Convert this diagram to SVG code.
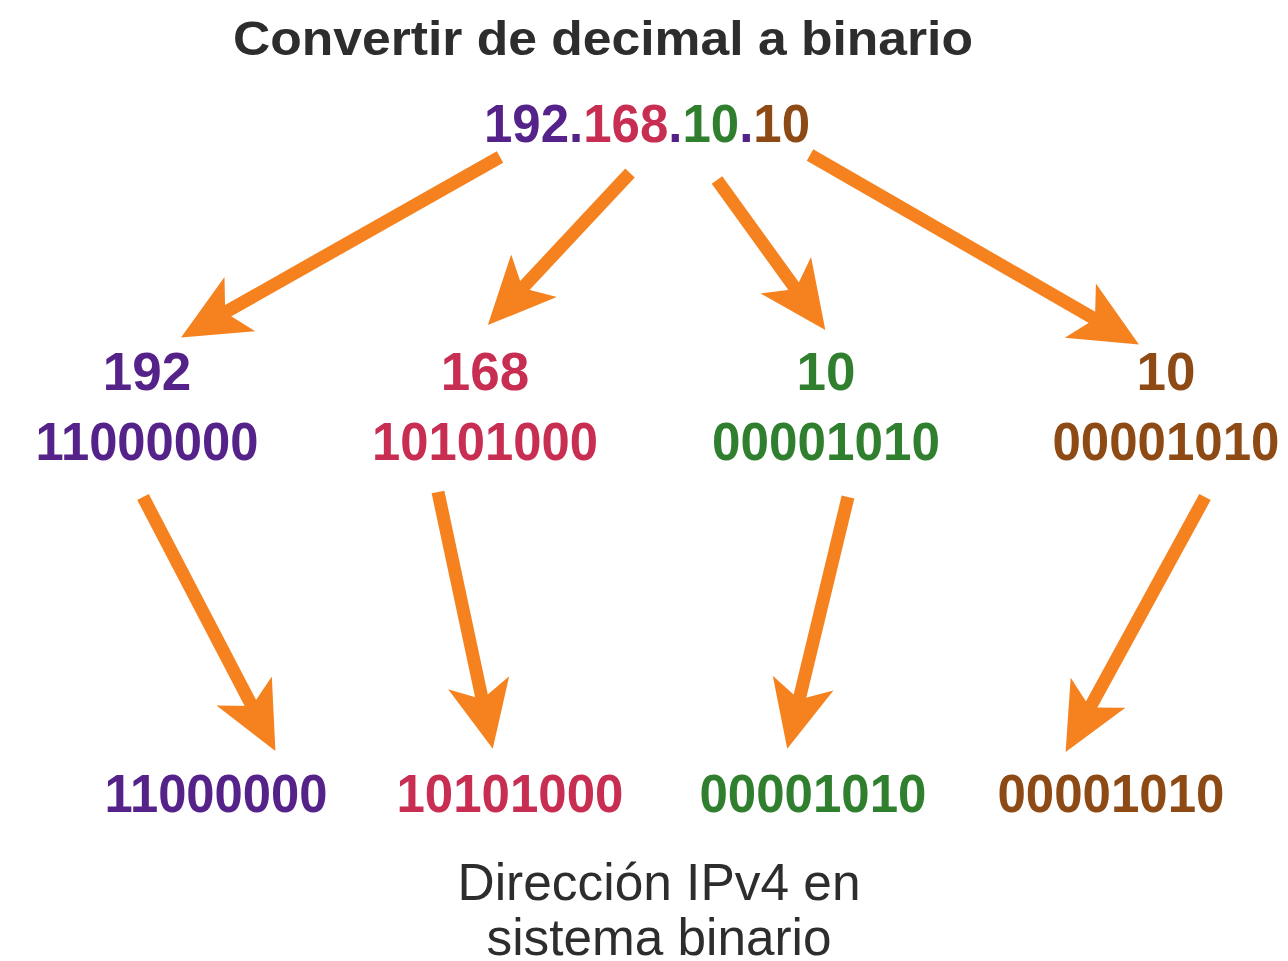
<svg xmlns="http://www.w3.org/2000/svg" width="1288" height="961" viewBox="0 0 1288 961">
<style>
.t{font-family:"Liberation Sans",Arial,sans-serif;font-weight:bold;text-anchor:middle}
.n{font-family:"Liberation Sans",Arial,sans-serif;font-weight:bold;font-size:53px;text-anchor:middle}
.cap{font-family:"Liberation Sans",Arial,sans-serif;font-size:52px;fill:#2d2d2d;text-anchor:middle}
.p{fill:#55228a}.r{fill:#c72e52}.g{fill:#2f7f2f}.b{fill:#8d4a14}
.a{stroke:#f5821f;stroke-width:13;fill:none;marker-end:url(#ah)}
</style>
<defs>
<marker id="ah" viewBox="0 -3 6 6" markerWidth="6" markerHeight="6" refX="4" refY="0" orient="auto">
<path d="M0,-2.4 L5.2,0 L0,2.4 L1.3,0 Z" fill="#f5821f"/>
</marker>
</defs>
<rect width="1288" height="961" fill="#ffffff"/>
<g id="title">
<text class="t" x="603" y="55" font-size="48" fill="#2d2d2d" textLength="740" lengthAdjust="spacingAndGlyphs">Convertir de decimal a binario</text>
</g>
<g id="ip">
<text class="n" x="647" y="142" textLength="326" lengthAdjust="spacingAndGlyphs"><tspan class="p">192.</tspan><tspan class="r">168</tspan><tspan class="p">.</tspan><tspan class="g">10</tspan><tspan class="p">.</tspan><tspan class="b">10</tspan></text>
</g>
<g id="oct1">
<text class="n p" x="147" y="390">192</text>
<text class="n p" x="147" y="460" textLength="223" lengthAdjust="spacingAndGlyphs">11000000</text>
</g>
<g id="oct2">
<text class="n r" x="485" y="390">168</text>
<text class="n r" x="485" y="460" textLength="226" lengthAdjust="spacingAndGlyphs">10101000</text>
</g>
<g id="oct3">
<text class="n g" x="826" y="390">10</text>
<text class="n g" x="826" y="460" textLength="228" lengthAdjust="spacingAndGlyphs">00001010</text>
</g>
<g id="oct4">
<text class="n b" x="1166" y="390">10</text>
<text class="n b" x="1166" y="460" textLength="227" lengthAdjust="spacingAndGlyphs">00001010</text>
</g>
<g id="bin1"><text class="n p" x="216" y="812" textLength="223" lengthAdjust="spacingAndGlyphs">11000000</text></g>
<g id="bin2"><text class="n r" x="510" y="812" textLength="227" lengthAdjust="spacingAndGlyphs">10101000</text></g>
<g id="bin3"><text class="n g" x="813" y="812" textLength="227" lengthAdjust="spacingAndGlyphs">00001010</text></g>
<g id="bin4"><text class="n b" x="1111" y="812" textLength="227" lengthAdjust="spacingAndGlyphs">00001010</text></g>
<g id="caption">
<text class="cap" x="659" y="900" textLength="403" lengthAdjust="spacingAndGlyphs">Dirección IPv4 en</text>
<text class="cap" x="659" y="955" textLength="345" lengthAdjust="spacingAndGlyphs">sistema binario</text>
</g>
<g id="connectors">
<line class="a" x1="500" y1="157" x2="194.6" y2="329.7"/>
<line class="a" x1="630" y1="173" x2="498.5" y2="313.7"/>
<line class="a" x1="717" y1="180" x2="816.2" y2="317.4"/>
<line class="a" x1="810" y1="155" x2="1125.4" y2="336.6"/>
<line class="a" x1="143" y1="497" x2="268.2" y2="737.1"/>
<line class="a" x1="438" y1="492" x2="489.5" y2="733.6"/>
<line class="a" x1="848" y1="497" x2="790.9" y2="733.7"/>
<line class="a" x1="1205" y1="497" x2="1073.1" y2="738.3"/>
</g>
</svg>
